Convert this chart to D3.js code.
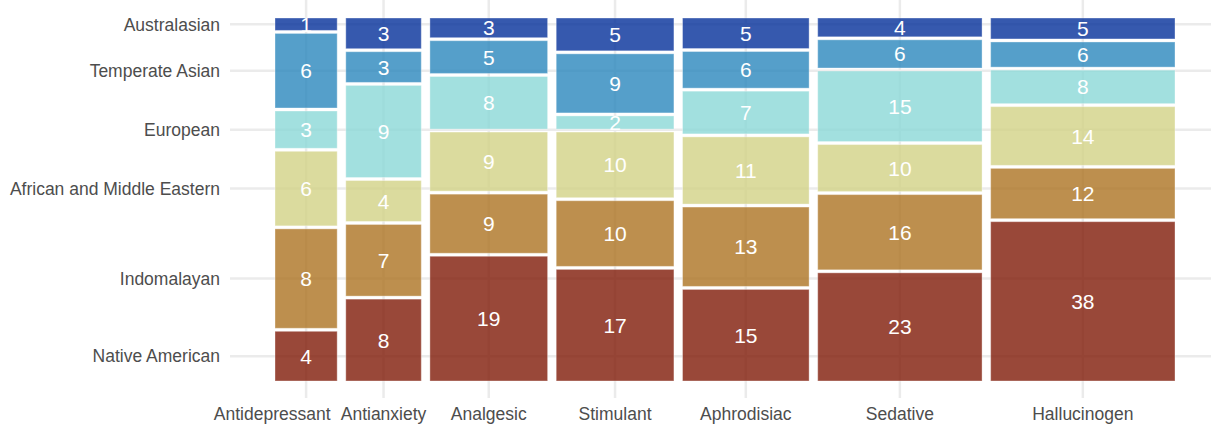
<!DOCTYPE html>
<html>
<head>
<meta charset="utf-8">
<script src="https://cdn.jsdelivr.net/npm/d3@7"></script>
<style>
  body { margin: 0; background: #fff; }
  text { font-family: "Liberation Sans", Arial, Helvetica, sans-serif; }
  .axis-label { fill: #4d4d4d; font-size: 17.5px; }
  .cell-label { fill: #fff; font-size: 21px; }
</style>
</head>
<body>
<svg id="MosaicVis" width="1211" height="425"></svg>
<script>
const width = 1211;
const height = 425;

/* DATA */
const uses = ["Antidepressant", "Antianxiety", "Analgesic", "Stimulant", "Aphrodisiac", "Sedative", "Hallucinogen"];
const regions = ["Native American", "Indomalayan", "African and Middle Eastern", "European", "Temperate Asian", "Australasian"];

const nativeAmerican = [4, 8, 19, 17, 15, 23, 38];
const indomalayan    = [8, 7, 9, 10, 13, 16, 12];
const africanMiddle  = [6, 4, 9, 10, 11, 10, 14];
const european       = [3, 9, 8, 2, 7, 15, 8];
const temperateAsian = [6, 3, 5, 9, 6, 6, 6];
const australasian   = [1, 3, 3, 5, 5, 4, 5];

const counts = [nativeAmerican, indomalayan, africanMiddle, european, temperateAsian, australasian];
const regionColors = ["#801a08", "#ac7322", "#d2d286", "#8bd8d7", "#2b87bd", "#04309a"];

/* LAYOUT */
const panel = { left: 230, right: 1211, top: 0, bottom: 398 };
const tiles = { left: 275, right: 1175, top: 18, bottom: 381 };
const colGap = 8.6;
const rowGap = 3;

let svg = d3.select("svg#MosaicVis");

/* build one record per column */
let columns = uses.map(function(use, i) {
  let values = counts.map(c => c[i]);
  return { use: use, values: values, total: d3.sum(values) };
});

const grandTotal = d3.sum(columns, d => d.total);

const x = d3.scaleLinear()
  .domain([0, grandTotal])
  .range([0, tiles.right - tiles.left - colGap * (uses.length - 1)]);

let cum = 0;
columns.forEach(function(col, i) {
  col.x0 = tiles.left + x(cum) + i * colGap;
  col.x1 = col.x0 + x(col.total);
  col.y = d3.scaleLinear()
    .domain([0, col.total])
    .range([0, tiles.bottom - tiles.top - rowGap * (regions.length - 1)]);
  let acc = 0;
  col.cells = col.values.map(function(v, j) {
    let y1 = tiles.bottom - col.y(acc) - j * rowGap;
    let y0 = y1 - col.y(v);
    acc += v;
    return { region: regions[j], value: v, y0: y0, y1: y1, color: regionColors[j] };
  });
  cum += col.total;
});

/* GRIDLINES */
const grid = svg.append("g").attr("id", "grid");

// y positions come from the first column (as ggmosaic does)
const yTicks = columns[0].cells.map(c => ({ label: c.region, y: (c.y0 + c.y1) / 2 }));
const xTicks = columns.map(c => ({ label: c.use, x: (c.x0 + c.x1) / 2 }));

grid.selectAll("line.h")
  .data(yTicks)
  .enter()
  .append("line")
  .attr("class", "h")
  .attr("x1", panel.left)
  .attr("x2", panel.right)
  .attr("y1", d => d.y)
  .attr("y2", d => d.y)
  .attr("stroke", "#ebebeb")
  .attr("stroke-width", 2.5);

grid.selectAll("line.v")
  .data(xTicks)
  .enter()
  .append("line")
  .attr("class", "v")
  .attr("x1", d => d.x)
  .attr("x2", d => d.x)
  .attr("y1", panel.top)
  .attr("y2", panel.bottom)
  .attr("stroke", "#ebebeb")
  .attr("stroke-width", 2.5);

/* TILES */
const plot = svg.append("g").attr("id", "plot");

let cols = plot.selectAll("g.col")
  .data(columns)
  .enter()
  .append("g")
  .attr("class", "col");

let cells = cols.selectAll("rect")
  .data(d => d.cells.map(c => Object.assign({ x0: d.x0, x1: d.x1 }, c)))
  .enter()
  .append("rect");

cells.attr("x", d => d.x0);
cells.attr("y", d => d.y0);
cells.attr("width", d => d.x1 - d.x0);
cells.attr("height", d => d.y1 - d.y0);
cells.style("fill", d => d.color);
cells.style("fill-opacity", 0.8);
cells.style("stroke", "#ffffff");
cells.style("stroke-opacity", 0.35);
cells.style("stroke-width", 1);

let labels = cols.selectAll("text")
  .data(d => d.cells.map(c => Object.assign({ cx: (d.x0 + d.x1) / 2 }, c)))
  .enter()
  .append("text")
  .attr("class", "cell-label")
  .attr("x", d => d.cx)
  .attr("y", d => (d.y0 + d.y1) / 2)
  .attr("dy", "0.36em")
  .attr("text-anchor", "middle")
  .text(d => d.value);

/* AXIS LABELS */
svg.append("g").attr("id", "y-labels")
  .selectAll("text")
  .data(yTicks)
  .enter()
  .append("text")
  .attr("class", "axis-label")
  .attr("x", 220)
  .attr("y", d => d.y)
  .attr("dy", "0.36em")
  .attr("text-anchor", "end")
  .text(d => d.label);

let xLabels = svg.append("g").attr("id", "x-labels")
  .selectAll("text")
  .data(xTicks)
  .enter()
  .append("text")
  .attr("class", "axis-label")
  .attr("x", d => d.x)
  .attr("y", 420)
  .attr("text-anchor", "middle")
  .text(d => d.label);

// push a label left when it would run into its neighbour
let nodes = xLabels.nodes();
for (let i = nodes.length - 2; i >= 0; i--) {
  let a = nodes[i].getBBox();
  let b = nodes[i + 1].getBBox();
  let overlap = a.x + a.width - (b.x - 10);
  if (overlap > 0) {
    d3.select(nodes[i]).attr("x", +d3.select(nodes[i]).attr("x") - overlap);
  }
}
</script>
</body>
</html>
